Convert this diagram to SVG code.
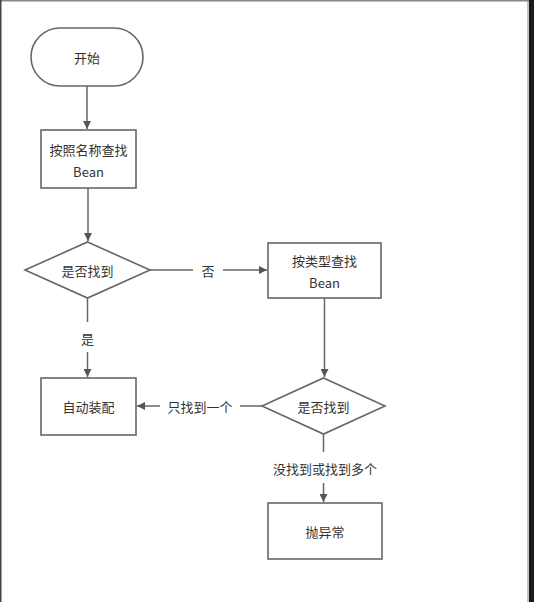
<svg xmlns="http://www.w3.org/2000/svg" width="534" height="602" viewBox="0 0 534 602">
<style>
.n{fill:#fff;stroke:#666;stroke-width:1.6}
.t{font-family:"Noto Sans CJK SC","Liberation Sans",sans-serif;font-size:13px;fill:#333;text-anchor:middle;dominant-baseline:central}
.c{fill:none;stroke:#666;stroke-width:1.5}
</style>
<defs>
<marker id="a" viewBox="0 0 10 10" refX="10" refY="5" markerWidth="8" markerHeight="8" markerUnits="userSpaceOnUse" orient="auto">
<path d="M0,0L10,5L0,10z" fill="#555"/>
</marker>
</defs>
<rect x="0" y="0" width="534" height="602" fill="#fff"/>
<rect x="0" y="0" width="529" height="1.5" fill="#888"/>
<rect x="0" y="0" width="1.5" height="602" fill="#444"/>
<rect x="527.5" y="0" width="1" height="602" fill="#888"/>
<rect x="529" y="0" width="5" height="602" fill="#1a1a1a"/>
<g id="start"><rect class="n" x="31" y="28" width="112" height="58" rx="29"/><text class="t" x="87" y="57">开始</text></g>
<g id="byName"><rect class="n" x="41" y="130" width="95" height="58"/><text class="t" x="88.5" y="149">按照名称查找</text><text class="t" x="88.5" y="171">Bean</text></g>
<g id="found1"><path class="n" d="M87.5,242L150,270L87.5,298L25,270z"/><text class="t" x="87.5" y="270">是否找到</text></g>
<g id="byType"><rect class="n" x="268" y="243" width="113" height="55"/><text class="t" x="324.5" y="260">按类型查找</text><text class="t" x="324.5" y="282">Bean</text></g>
<g id="found2"><path class="n" d="M323.5,378L385,406L323.5,434L262,406z"/><text class="t" x="323.5" y="406">是否找到</text></g>
<g id="autowire"><rect class="n" x="41" y="378" width="95" height="57"/><text class="t" x="88.5" y="406">自动装配</text></g>
<g id="throw"><rect class="n" x="268" y="503" width="114" height="56"/><text class="t" x="325" y="531">抛异常</text></g>
<g id="connectors">
<path class="c" d="M87,86V129" marker-end="url(#a)"/>
<path class="c" d="M88,188V241" marker-end="url(#a)"/>
<path class="c" d="M150,270H193"/>
<path class="c" d="M223,270H267" marker-end="url(#a)"/>
<text class="t" x="208" y="270">否</text>
<path class="c" d="M87.5,298V322"/>
<path class="c" d="M87.5,352V377" marker-end="url(#a)"/>
<text class="t" x="87.5" y="338">是</text>
<path class="c" d="M324.5,298V377" marker-end="url(#a)"/>
<path class="c" d="M262,406H240"/>
<path class="c" d="M160,406H137" marker-end="url(#a)"/>
<text class="t" x="200" y="406">只找到一个</text>
<path class="c" d="M323.5,434V452"/>
<path class="c" d="M323.5,483V502" marker-end="url(#a)"/>
<text class="t" x="325" y="468">没找到或找到多个</text>
</g>
</svg>
